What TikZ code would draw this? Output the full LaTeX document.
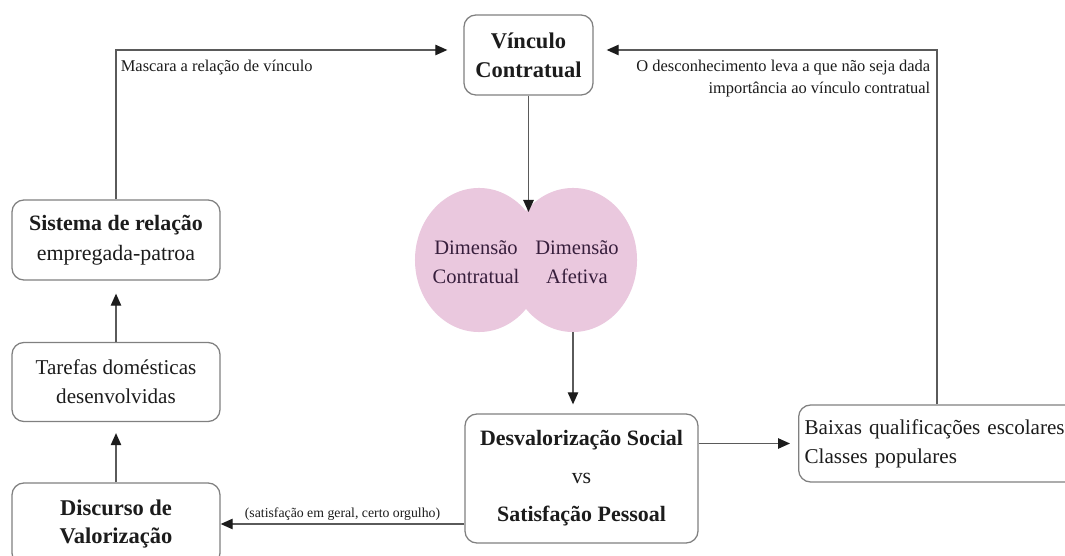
\documentclass[tikz,border=0pt]{standalone}
\usepackage{fontspec}
\setmainfont{Liberation Serif}
\usetikzlibrary{arrows.meta,shapes.geometric}
\definecolor{boxline}{RGB}{128,128,128}
\definecolor{edgeline}{RGB}{90,90,90}
\definecolor{ink}{RGB}{28,28,28}
\definecolor{dimpink}{RGB}{234,200,222}
\definecolor{dimink}{RGB}{55,30,60}
\tikzset{
  box/.style={draw=boxline, line width=0.9pt, rounded corners=0.3cm, align=center,
    text=ink, inner sep=0pt},
  boldtxt/.style={font=\fontsize{16}{20.5}\selectfont\bfseries},
  regtxt/.style={font=\fontsize{15}{20.5}\selectfont},
  mixtxt/.style={font=\fontsize{15.6}{21}\selectfont},
  dim/.style={ellipse, fill=dimpink, draw=none, inner sep=0pt,
    minimum width=3.2cm, minimum height=3.6cm},
  dimtxt/.style={align=center, text=dimink, inner sep=0pt,
    font=\fontsize{14.6}{20.6}\selectfont},
  arr/.style={draw=edgeline, line width=0.9pt, -{Triangle[length=0.3cm,width=0.26cm,color=ink]}},
  lbl/.style={text=ink, font=\fontsize{11.7}{16}\selectfont, inner sep=3pt},
  smalllbl/.style={text=ink, font=\fontsize{9.8}{12}\selectfont, inner sep=2pt}
}
\begin{document}
\begin{tikzpicture}[x=0.025cm, y=-0.025cm]
      \clip (0,0) rectangle (1065,556);
      \fill[white] (0,0) rectangle (1065,556);
      \node[box, boldtxt, minimum width=3.225cm, minimum height=2cm] (vinc) at (528.5,55) {V\'inculo\\Contratual};
      \node[box, mixtxt, minimum width=5.2cm, minimum height=2cm] (sist) at (116,240)
        {\textbf{Sistema de rela\c{c}\~ao}\\empregada-patroa};
      \node[box, regtxt, minimum width=5.2cm, minimum height=1.975cm] (taref) at (116,382) {Tarefas dom\'esticas\\desenvolvidas};
      \node[box, boldtxt, minimum width=5.2cm, minimum height=2.05cm] (disc) at (116,524) {Discurso de\\Valoriza\c{c}\~ao};
      \node[dim] (contr) at (479,260) {};
      \node[dim] (afet) at (573,260) {};
      \node[dimtxt] (contrtxt) at (476,262) {Dimens\~ao\\Contratual};
      \node[dimtxt] (afettxt) at (577,262) {Dimens\~ao\\Afetiva};
      \node[box, mixtxt, minimum width=5.825cm, minimum height=3.225cm] (desv) at (581.5,478.5)
        {\textbf{Desvaloriza\c{c}\~ao Social}\\[6pt]vs\\[6pt]\textbf{Satisfa\c{c}\~ao Pessoal}};
      \node[box, regtxt, anchor=west, align=left, text width=7.2cm, inner xsep=0.15cm,
        minimum height=1.925cm] (baix) at (798,443.5) {Baixas qualifica\c{c}\~oes escolares\\Classes populares};
      \coordinate (notch) at (527,212);
      \begin{scope}
        \draw[arr, shorten >=0.4cm] (sist.north) |- node[lbl, below right, pos=0.5, yshift=-0.12cm]
          {Mascara a rela\c{c}\~ao de v\'inculo} ([yshift=0.125cm]vinc.west);
        \draw[arr, shorten >=0.325cm] ([xshift=3.475cm]baix.north west) |- node[lbl, below left, pos=0.5,
          align=right, yshift=-0.12cm, xshift=-0.05cm]
          {O desconhecimento leva a que n\~ao seja dada\\import\^ancia ao v\'inculo contratual} ([yshift=0.125cm]vinc.east);
        \draw[arr] (vinc.south) -- (vinc.south |- notch);
        \draw[arr, shorten >=0.225cm] (afet.south) -- (afet.south |- desv.north);
        \draw[arr, shorten >=0.2cm] (desv.east |- baix.west) -- (baix.west);
        \draw[arr] (desv.west |- disc.east) -- node[smalllbl, above]
          {(satisfa\c{c}\~ao em geral, certo orgulho)} (disc.east);
        \draw[arr, shorten >=0.275cm] (disc.north) -- (taref.south);
        \draw[arr, shorten >=0.325cm] (taref.north) -- (sist.south);
      \end{scope}
    \end{tikzpicture}
\end{document}
